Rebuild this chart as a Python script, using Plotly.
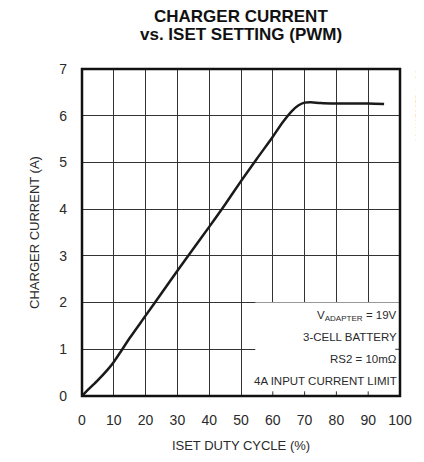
import plotly.graph_objects as go

duty = [0, 2, 5, 8, 10, 12, 15, 20, 25, 30, 35, 40, 45, 50, 55, 60, 63, 66, 68, 70, 72, 75, 80, 85, 90, 95]
current = [0, 0.14, 0.34, 0.56, 0.73, 0.93, 1.24, 1.72, 2.2, 2.68, 3.15, 3.62, 4.1, 4.6, 5.08, 5.55, 5.85, 6.1, 6.22, 6.28, 6.29, 6.27, 6.26, 6.26, 6.26, 6.25]

xticks = [0, 10, 20, 30, 40, 50, 60, 70, 80, 90, 100]
yticks = [0, 1, 2, 3, 4, 5, 6, 7]

FONT = "Liberation Sans Narrow, Arial Narrow, Liberation Sans, Arial"
TXT = "#2a2a2a"

fig = go.Figure()
fig.add_trace(go.Scatter(x=duty, y=current, mode="lines",
                         line=dict(color="#1a1a1a", width=2.5, shape="spline", smoothing=0.8),
                         showlegend=False, hoverinfo="skip"))

# white box behind annotation text (covers grid)
fig.add_shape(type="rect", xref="x", yref="y", x0=54.5, x1=100, y0=0, y1=2.0,
              fillcolor="white", line=dict(width=0), layer="above")
# tick stubs at bottom of the box and right side
for xv in [60, 70, 80, 90]:
    fig.add_shape(type="line", xref="x", yref="y", x0=xv, x1=xv, y0=0, y1=0.1,
                  line=dict(color="#333", width=1), layer="above")
fig.add_shape(type="line", xref="x", yref="y", x0=98.5, x1=100, y0=1, y1=1,
              line=dict(color="#333", width=1), layer="above")
# redraw the frame edges over the box
fig.add_shape(type="rect", xref="paper", yref="paper", x0=0, x1=1, y0=0, y1=1,
              line=dict(color="#111", width=2.5), layer="above")

box_lines = [("V<sub>ADAPTER</sub> = 19V", 1.72), ("3-CELL BATTERY", 1.27),
             ("RS2 = 10mΩ", 0.79), ("4A INPUT CURRENT LIMIT", 0.32)]
for txt, yv in box_lines:
    fig.add_annotation(xref="x", yref="y", x=99.4, y=yv, xanchor="right", yanchor="middle",
                       text=txt, showarrow=False, borderpad=0,
                       font=dict(family=FONT, size=11.5, color=TXT))

fig.add_annotation(xref="paper", yref="paper", x=1.058, y=0.888, xanchor="center", yanchor="middle",
                   text="MAX17085B toc04", textangle=-90, showarrow=False,
                   font=dict(family=FONT, size=8.5, color="#444"))

title_lines = [("<b>CHARGER CURRENT</b>", 1.1616), ("<b>vs. ISET SETTING (PWM)</b>", 1.1057)]
for txt, yv in title_lines:
    fig.add_annotation(xref="paper", yref="paper", x=0.5, y=yv, xanchor="center", yanchor="middle",
                       text=txt, showarrow=False, borderpad=0,
                       font=dict(family=FONT, size=17, color="#111"))

fig.update_layout(
    width=416, height=454,
    paper_bgcolor="white", plot_bgcolor="white",
    margin=dict(l=74, r=22, t=61, b=62),
    font=dict(family=FONT, size=14, color=TXT),
)
fig.update_xaxes(range=[0, 100], tickvals=xticks, ticktext=[str(v) for v in xticks],
                 showgrid=True, gridcolor="#333", gridwidth=1,
                 showline=False, ticks="", zeroline=False, ticklabelstandoff=14,
                 tickfont=dict(family=FONT, size=14, color=TXT),
                 title=dict(text="ISET DUTY CYCLE (%)", standoff=13,
                            font=dict(family=FONT, size=13, color=TXT)))
fig.update_yaxes(range=[0, 7], tickvals=yticks, ticktext=[str(v) for v in yticks],
                 showgrid=True, gridcolor="#333", gridwidth=1,
                 showline=False, ticks="", ticklabelstandoff=14, zeroline=False,
                 tickfont=dict(family=FONT, size=14, color=TXT),
                 title=dict(text="CHARGER CURRENT (A)", standoff=16,
                            font=dict(family=FONT, size=13, color=TXT)))

fig.write_html("out.html")
